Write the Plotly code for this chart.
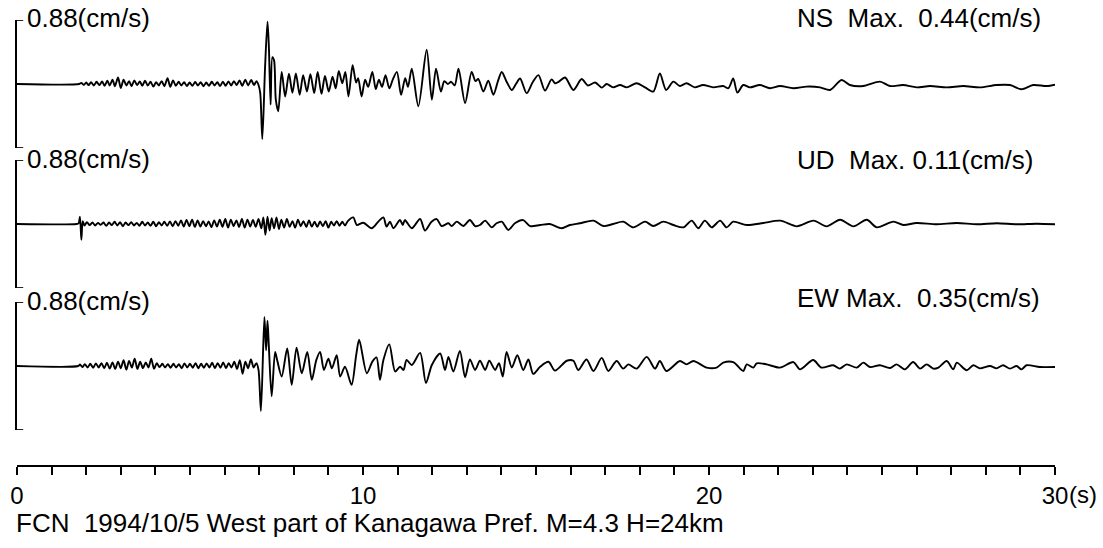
import plotly.graph_objects as go

# ---------------- data (time s, velocity cm/s) ----------------
ns_trace = [
    (0.00, 0.000), (1.80, 0.000),
    (1.86, 0.008), (1.93, -0.006), (2.00, 0.010), (2.07, -0.008), (2.14, 0.012), (2.22, -0.010),
    (2.30, 0.015), (2.38, -0.008), (2.46, 0.018), (2.53, -0.012), (2.61, 0.022), (2.68, -0.010),
    (2.76, 0.030), (2.83, -0.015), (2.92, 0.045), (3.00, -0.028), (3.08, 0.030), (3.16, -0.010),
    (3.24, 0.020), (3.31, -0.015), (3.39, 0.025), (3.47, -0.008), (3.55, 0.018), (3.62, -0.012),
    (3.70, 0.022), (3.78, -0.010), (3.86, 0.015), (3.94, -0.018), (4.02, 0.012), (4.10, -0.010),
    (4.18, 0.020), (4.26, -0.015), (4.35, 0.040), (4.43, -0.020), (4.51, 0.025), (4.59, -0.012),
    (4.67, 0.015), (4.75, -0.010), (4.83, 0.012), (4.91, -0.014), (4.99, 0.010), (5.07, -0.012),
    (5.15, 0.014), (5.23, -0.010), (5.31, 0.012), (5.39, -0.015), (5.47, 0.010), (5.55, -0.012),
    (5.63, 0.015), (5.71, -0.010), (5.79, 0.012), (5.87, -0.014), (5.95, 0.016), (6.03, -0.012),
    (6.11, 0.018), (6.19, -0.010), (6.27, 0.020), (6.35, -0.008), (6.43, 0.025), (6.51, -0.012),
    (6.60, 0.030), (6.68, -0.010), (6.77, 0.028), (6.85, -0.008), (6.92, 0.020),
    (6.98, -0.007), (7.03, -0.063), (7.09, -0.379), (7.17, 0.117), (7.24, 0.429), (7.28, 0.253),
    (7.33, -0.142), (7.38, 0.185), (7.43, 0.162), (7.48, -0.108), (7.55, -0.187), (7.65, 0.083),
    (7.75, -0.086), (7.86, 0.070), (7.96, -0.060), (8.06, 0.072), (8.17, -0.074), (8.27, 0.061),
    (8.38, -0.052), (8.48, 0.068), (8.59, -0.063), (8.69, 0.083), (8.80, -0.068), (8.90, 0.055),
    (9.01, -0.052), (9.12, 0.050), (9.21, -0.030), (9.30, 0.090), (9.40, 0.005), (9.49, 0.083),
    (9.58, -0.086), (9.70, 0.129), (9.80, 0.010), (9.86, 0.040), (9.96, -0.086), (10.06, 0.030),
    (10.15, -0.020), (10.27, 0.083), (10.37, -0.035), (10.46, 0.030), (10.55, -0.020), (10.65, 0.061),
    (10.76, -0.030), (10.86, 0.030), (10.98, 0.083), (11.10, -0.074), (11.22, 0.040), (11.30, -0.020),
    (11.41, 0.106), (11.60, -0.153), (11.84, 0.235), (11.99, -0.108), (12.11, 0.106), (12.25, -0.052),
    (12.35, 0.020), (12.45, 0.000), (12.55, 0.015), (12.65, -0.010), (12.76, 0.106), (12.95, -0.131),
    (13.14, 0.083), (13.25, 0.020), (13.33, 0.035), (13.48, -0.052), (13.62, 0.023), (13.77, -0.074),
    (13.90, 0.020), (14.01, 0.083), (14.15, 0.016), (14.30, -0.041), (14.42, 0.000), (14.54, 0.038),
    (14.73, -0.063), (14.90, 0.010), (15.07, 0.061), (15.26, -0.045), (15.45, 0.032), (15.55, 0.005),
    (15.65, 0.015), (15.84, 0.045), (16.08, -0.041), (16.32, 0.034), (16.50, -0.010), (16.71, 0.010),
    (16.90, -0.025), (17.04, 0.000), (17.23, -0.023), (17.43, -0.007), (17.62, -0.023), (17.91, 0.005),
    (18.15, -0.023), (18.39, -0.052), (18.58, 0.072), (18.76, -0.041), (18.97, 0.016), (19.16, -0.014),
    (19.35, 0.005), (19.59, -0.023), (19.83, -0.007), (20.12, -0.023), (20.41, -0.014), (20.56, -0.029),
    (20.70, 0.038), (20.82, -0.059), (20.99, -0.007), (21.18, -0.023), (21.47, -0.007), (21.76, -0.029),
    (22.05, -0.014), (22.44, -0.029), (22.82, -0.018), (23.21, -0.023), (23.50, -0.041), (23.83, 0.027),
    (24.07, -0.007), (24.46, -0.014), (24.94, 0.016), (25.23, -0.014), (25.61, -0.007), (26.00, -0.023),
    (26.39, -0.014), (26.87, -0.023), (27.35, -0.014), (27.83, -0.023), (28.31, -0.007), (28.70, -0.007),
    (29.03, -0.036), (29.37, -0.007), (29.76, -0.014), (30.00, -0.005),
]

ud_trace = [
    (0.00, 0.000), (1.72, 0.000), (1.78, 0.005), (1.82, 0.050), (1.86, -0.108), (1.90, 0.020),
    (1.95, -0.010), (2.02, 0.012), (2.10, -0.008), (2.18, 0.010), (2.26, -0.010), (2.34, 0.008),
    (2.42, -0.006), (2.50, 0.010), (2.58, -0.012), (2.66, 0.010), (2.74, -0.008), (2.82, 0.015),
    (2.90, -0.010), (2.98, 0.012), (3.06, -0.015), (3.14, 0.010), (3.22, -0.008), (3.30, 0.012),
    (3.38, -0.010), (3.46, 0.008), (3.54, -0.012), (3.62, 0.015), (3.70, -0.010), (3.78, 0.010),
    (3.86, -0.012), (3.94, 0.015), (4.02, -0.015), (4.10, 0.012), (4.18, -0.010), (4.26, 0.015),
    (4.34, -0.012), (4.42, 0.018), (4.50, -0.015), (4.58, 0.020), (4.66, -0.012), (4.74, 0.025),
    (4.82, -0.018), (4.90, 0.028), (4.98, -0.015), (5.06, 0.030), (5.14, -0.020), (5.22, 0.025),
    (5.30, -0.018), (5.38, 0.020), (5.46, -0.015), (5.54, 0.018), (5.62, -0.022), (5.70, 0.025),
    (5.78, -0.018), (5.86, 0.030), (5.94, -0.020), (6.02, 0.035), (6.10, -0.025), (6.18, 0.030),
    (6.26, -0.015), (6.34, 0.025), (6.42, -0.020), (6.50, 0.035), (6.58, -0.025), (6.66, 0.030),
    (6.74, -0.018), (6.82, 0.028), (6.90, -0.020), (6.98, 0.035), (7.06, -0.030), (7.12, 0.045),
    (7.18, -0.074), (7.24, 0.050), (7.30, -0.045), (7.36, 0.040), (7.43, -0.030), (7.50, 0.045),
    (7.57, -0.035), (7.64, 0.030), (7.72, -0.025), (7.80, 0.035), (7.88, -0.020), (7.96, 0.020),
    (8.04, -0.025), (8.12, 0.030), (8.20, -0.015), (8.28, 0.020), (8.36, -0.020), (8.44, 0.025),
    (8.52, -0.018), (8.60, 0.015), (8.68, -0.020), (8.76, 0.018), (8.84, -0.015), (8.92, 0.020),
    (9.00, -0.025), (9.08, 0.015), (9.16, -0.010), (9.24, 0.020), (9.32, -0.012), (9.40, 0.015),
    (9.48, -0.010), (9.56, 0.020), (9.72, 0.045), (9.82, -0.007), (10.01, 0.009), (10.25, -0.029),
    (10.44, 0.016), (10.59, 0.045), (10.68, -0.018), (10.78, 0.016), (10.88, -0.029), (11.07, 0.027),
    (11.15, -0.007), (11.21, 0.027), (11.41, -0.029), (11.65, 0.034), (11.79, -0.045), (11.98, 0.016),
    (12.13, 0.034), (12.27, -0.014), (12.47, 0.005), (12.56, -0.014), (12.71, 0.016), (12.90, -0.014),
    (13.09, 0.027), (13.24, -0.014), (13.38, -0.007), (13.53, 0.023), (13.72, -0.023), (13.86, 0.005),
    (14.01, 0.016), (14.20, -0.041), (14.39, 0.005), (14.63, 0.027), (14.83, -0.014), (15.12, -0.007),
    (15.40, 0.000), (15.74, -0.029), (15.98, -0.007), (16.27, 0.005), (16.66, 0.023), (16.95, -0.014),
    (17.23, 0.000), (17.52, 0.016), (17.81, -0.023), (18.15, 0.016), (18.39, -0.014), (18.68, 0.016),
    (18.97, -0.007), (19.26, -0.023), (19.50, 0.023), (19.69, -0.029), (19.88, 0.023), (20.08, -0.023),
    (20.32, 0.023), (20.51, -0.023), (20.70, 0.016), (21.09, -0.007), (21.57, 0.007), (22.06, 0.023),
    (22.54, -0.016), (23.02, 0.023), (23.40, -0.016), (23.79, 0.029), (24.17, -0.016), (24.56, 0.029),
    (24.85, -0.023), (25.33, 0.016), (25.62, -0.007), (26.00, 0.007), (26.58, -0.002), (27.16, 0.007),
    (27.74, -0.002), (28.32, 0.005), (28.90, -0.002), (29.47, 0.002), (30.00, -0.002),
]

ew_trace = [
    (0.00, 0.000), (1.77, 0.000),
    (1.82, 0.010), (1.89, -0.008), (1.96, 0.012), (2.04, -0.010), (2.12, 0.015), (2.20, -0.012),
    (2.28, 0.018), (2.36, -0.010), (2.44, 0.020), (2.52, -0.015), (2.60, 0.022), (2.68, -0.018),
    (2.76, 0.025), (2.84, -0.020), (2.92, 0.030), (3.00, -0.015), (3.08, 0.040), (3.16, -0.025),
    (3.24, 0.035), (3.32, -0.010), (3.40, 0.050), (3.48, -0.020), (3.56, 0.030), (3.64, -0.015),
    (3.72, 0.025), (3.80, -0.010), (3.88, 0.050), (3.96, -0.020), (4.04, 0.020), (4.12, -0.008),
    (4.20, 0.015), (4.28, -0.010), (4.36, 0.012), (4.44, -0.012), (4.52, 0.015), (4.60, -0.010),
    (4.68, 0.012), (4.76, -0.015), (4.84, 0.018), (4.92, -0.010), (5.00, 0.015), (5.08, -0.012),
    (5.16, 0.020), (5.24, -0.015), (5.32, 0.015), (5.40, -0.012), (5.48, 0.018), (5.56, -0.010),
    (5.64, 0.022), (5.72, -0.015), (5.80, 0.020), (5.88, -0.012), (5.96, 0.025), (6.04, -0.015),
    (6.12, 0.020), (6.20, -0.010), (6.28, 0.030), (6.36, -0.020), (6.44, 0.040), (6.52, -0.054),
    (6.60, 0.030), (6.68, -0.015), (6.76, 0.045), (6.84, -0.010), (6.92, 0.020),
    (6.98, -0.027), (7.05, -0.309), (7.15, 0.338), (7.20, 0.108), (7.24, 0.311), (7.28, 0.130),
    (7.36, -0.208), (7.46, 0.097), (7.52, 0.040), (7.65, -0.072), (7.81, 0.120), (7.94, -0.129),
    (8.08, 0.126), (8.23, -0.050), (8.39, 0.097), (8.52, -0.095), (8.65, 0.040), (8.76, 0.097),
    (8.87, -0.027), (9.00, 0.050), (9.10, -0.016), (9.24, 0.074), (9.34, -0.072), (9.48, -0.005),
    (9.67, -0.129), (9.80, 0.070), (9.89, 0.180), (10.11, -0.050), (10.27, 0.030), (10.39, 0.059),
    (10.49, -0.095), (10.59, 0.041), (10.76, 0.149), (10.93, -0.038), (11.07, -0.005), (11.17, -0.027),
    (11.26, 0.041), (11.41, 0.007), (11.65, 0.090), (11.82, -0.117), (11.99, 0.007), (12.23, 0.086),
    (12.37, -0.027), (12.47, 0.063), (12.61, -0.038), (12.80, 0.104), (12.95, -0.077), (13.09, 0.045),
    (13.24, -0.027), (13.38, 0.036), (13.53, -0.027), (13.65, 0.036), (13.82, -0.027), (13.93, 0.020),
    (14.04, -0.072), (14.15, 0.097), (14.30, -0.010), (14.46, 0.074), (14.63, -0.027), (14.78, 0.045),
    (14.92, -0.054), (15.12, -0.005), (15.36, 0.029), (15.55, -0.032), (15.89, 0.036), (16.08, 0.036),
    (16.22, -0.027), (16.46, 0.045), (16.66, -0.034), (16.90, 0.056), (17.09, -0.034), (17.33, 0.034),
    (17.52, -0.018), (17.67, 0.011), (17.91, -0.018), (18.20, 0.063), (18.44, -0.018), (18.58, 0.034),
    (18.77, -0.034), (19.16, 0.034), (19.35, 0.011), (19.55, 0.034), (19.93, -0.011), (20.22, -0.011),
    (20.41, 0.023), (20.70, 0.027), (20.99, -0.034), (21.09, 0.011), (21.28, -0.011), (21.38, 0.018),
    (21.67, 0.011), (22.05, -0.011), (22.44, 0.027), (22.63, -0.023), (23.01, 0.041), (23.25, -0.011),
    (23.59, 0.005), (23.78, -0.018), (23.98, 0.011), (24.27, -0.011), (24.46, 0.023), (24.65, -0.007),
    (24.94, 0.005), (25.23, -0.014), (25.42, 0.011), (25.66, -0.023), (25.90, 0.027), (26.10, -0.018),
    (26.29, 0.011), (26.48, -0.018), (26.63, -0.011), (26.87, 0.034), (27.06, -0.023), (27.16, 0.023),
    (27.45, -0.029), (27.64, 0.005), (27.83, -0.016), (28.12, 0.000), (28.31, -0.016), (28.50, 0.005),
    (28.70, -0.018), (28.89, 0.000), (29.03, -0.023), (29.18, 0.005), (29.56, -0.007), (30.00, -0.007),
]

components = ["NS", "UD", "EW"]
max_values = [0.44, 0.11, 0.35]
max_labels = ["NS\u00a0 Max.\u00a0 0.44(cm/s)", "UD\u00a0 Max. 0.11(cm/s)", "EW Max.\u00a0 0.35(cm/s)"]
scale_label = "0.88(cm/s)"
scale_half = 0.44
time_ticks = list(range(0, 31))
time_labels = ["0", "10", "20", "30"]
time_unit = "(s)"
caption = "FCN\u00a0 1994/10/5 West part of Kanagawa Pref. M=4.3 H=24km"

# ---------------- layout geometry ----------------
W, H = 1103, 548
FONT = "Liberation Sans, Arial, Helvetica, sans-serif"
x0_px, x30_px = 17, 1055
panel_px = [(20, 148), (160, 288), (302, 430)]   # bracket top/bottom in pixels
axis_px = 466
TICK_FS = 24
LABEL_FS = 26


def py(p):
    return 1 - p / H


fig = go.Figure()
traces = [ns_trace, ud_trace, ew_trace]
ynames = ["y", "y2", "y3"]
for i, tr in enumerate(traces):
    fig.add_trace(go.Scatter(
        x=[p[0] for p in tr], y=[p[1] for p in tr],
        mode="lines", line=dict(color="black", width=1.9, shape="spline", smoothing=0.8),
        xaxis="x", yaxis=ynames[i], showlegend=False, hoverinfo="skip"))

layout = dict(
    width=W, height=H, autosize=False,
    margin=dict(l=0, r=0, t=0, b=0, pad=0),
    paper_bgcolor="white", plot_bgcolor="rgba(0,0,0,0)",
    font=dict(family=FONT, color="black", size=24),
    xaxis=dict(
        domain=[x0_px / W, x30_px / W], range=[0, 30],
        anchor="free", position=py(axis_px), automargin=False,
        showline=True, linecolor="black", linewidth=1.7,
        ticks="outside", ticklen=8, tickwidth=1.7, tickcolor="black",
        tickvals=time_ticks,
        ticktext=[time_labels[t // 10] if t % 10 == 0 else "" for t in time_ticks],
        tickfont=dict(family=FONT, size=TICK_FS, color="black"),
        showgrid=False, zeroline=False, fixedrange=True,
    ),
)
for i, (top, bot) in enumerate(panel_px):
    key = "yaxis" if i == 0 else f"yaxis{i+1}"
    layout[key] = dict(
        domain=[py(bot), py(top)], range=[-scale_half, scale_half],
        anchor="x", showline=True, linecolor="black", linewidth=1.7, automargin=False,
        ticks="", showticklabels=False,
        showgrid=False, zeroline=False, fixedrange=True,
    )
fig.update_layout(**layout)

# short horizontal ends of the 0.88 cm/s scale brackets
shapes = []
for i in range(3):
    for v in (-scale_half, scale_half):
        shapes.append(dict(type="line", xref="x", yref=ynames[i], x0=0, x1=0.18, y0=v, y1=v,
                           line=dict(color="black", width=1.7)))
fig.update_layout(shapes=shapes)

ann = []
label_y = [18, 159, 301]
max_y = [18, 160, 298]
for i in range(3):
    ann.append(dict(x=25 / W, y=py(label_y[i]), xref="paper", yref="paper",
                    text=scale_label, showarrow=False, xanchor="left", yanchor="middle",
                    font=dict(family=FONT, size=LABEL_FS, color="black")))
    ann.append(dict(x=795 / W, y=py(max_y[i]), xref="paper", yref="paper",
                    text=max_labels[i], showarrow=False, xanchor="left", yanchor="middle",
                    font=dict(family=FONT, size=LABEL_FS, color="black")))
# unit after the last tick label
ann.append(dict(x=30, y=py(494), xref="x", yref="paper", text=time_unit, showarrow=False,
                xanchor="left", yanchor="middle", xshift=0.556 * TICK_FS - 1,
                font=dict(family=FONT, size=TICK_FS, color="black")))
ann.append(dict(x=14 / W, y=py(523), xref="paper", yref="paper", text=caption,
                showarrow=False, xanchor="left", yanchor="middle",
                font=dict(family=FONT, size=LABEL_FS, color="black")))
fig.update_layout(annotations=ann)

fig.write_html("out.html")
